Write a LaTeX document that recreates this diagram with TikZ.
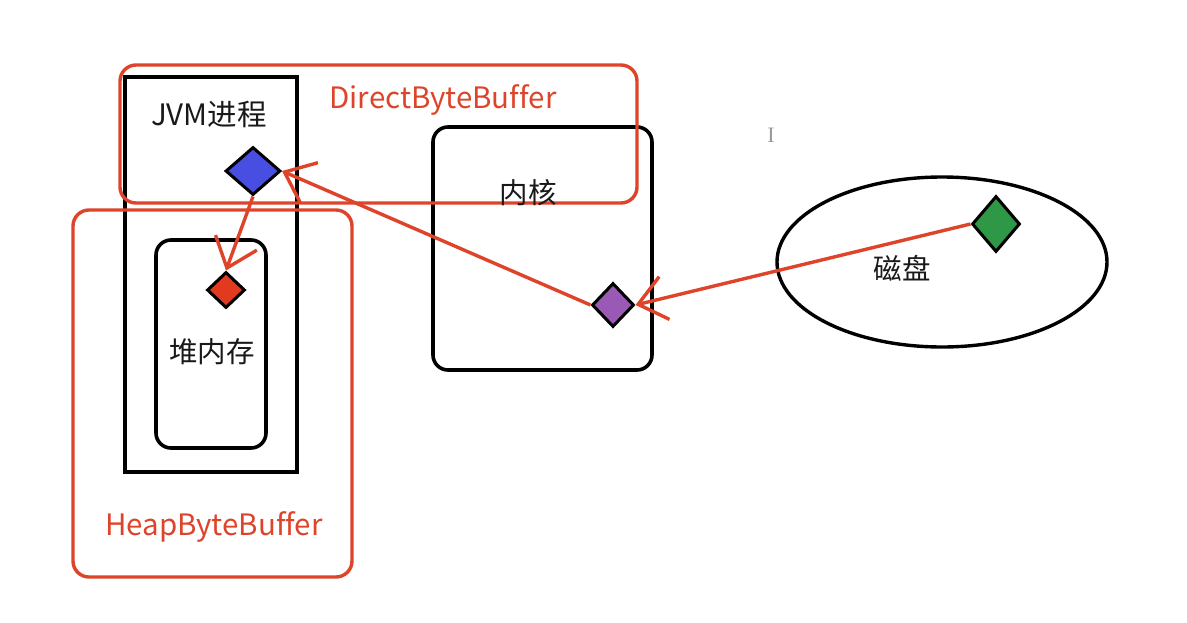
\documentclass[tikz,border=0pt]{standalone}
\usepackage{fontspec}
\setmainfont[Ligatures=NoCommon]{Noto Sans CJK SC}
\newfontfamily\cursorfont{Liberation Serif}
\usetikzlibrary{shapes.geometric,arrows.meta}
\definecolor{myred}{RGB}{222,68,42}
\definecolor{gemblue}{RGB}{72,78,226}
\definecolor{gemred}{RGB}{226,58,30}
\definecolor{gempurple}{RGB}{155,89,182}
\definecolor{gemgreen}{RGB}{46,152,70}
\definecolor{txt}{RGB}{25,25,25}
\begin{document}
\begin{tikzpicture}[x=1pt,y=-1pt,
  blackbox/.style={draw=black,line width=3.6pt,inner sep=0pt,rectangle},
  roundbox/.style={blackbox,rounded corners=15pt},
  redframe/.style={draw=myred,line width=3.4pt,rounded corners=16pt,inner sep=0pt,rectangle},
  gem/.style={diamond,draw=black,line width=3pt,inner sep=0pt},
  lbl/.style={font=\fontsize{28.5}{31}\selectfont,text=txt,inner sep=0pt},
  redlbl/.style={font=\fontsize{29.5}{32}\selectfont,text=myred,inner sep=0pt},
  arr/.style={draw=myred,line width=3.4pt,-{Straight Barb[length=27pt,width=44pt,line width=3.4pt]}}
]
\useasboundingbox (0,0) rectangle (1187,622);
\fill[white] (0,0) rectangle (1187,622);

% black boxes
\node[blackbox,minimum width=172pt,minimum height=395pt] (jvm) at (211,274.5) {};
\node[roundbox,minimum width=110pt,minimum height=208pt] (heap) at (211,344) {};
\node[roundbox,minimum width=219pt,minimum height=243pt] (kernel) at (542.5,248.5) {};
\node[ellipse,draw=black,line width=3.4pt,minimum width=330pt,minimum height=170pt,inner sep=0pt] (disk) at (942,262) {};

% red frames
\node[redframe,minimum width=517pt,minimum height=138pt] (direct) at (378.5,134) {};
\node[redframe,minimum width=279pt,minimum height=367pt] (heapbuf) at (212.5,393.5) {};

% labels
\node[lbl,font=\fontsize{29.5}{32}\selectfont] (jvmlbl) at (209,114) {JVM进程};
\node[lbl] (heaplbl) at (212,352) {堆内存};
\node[lbl] (kernellbl) at (528,193) {内核};
\node[lbl] (disklbl) at (902,268) {磁盘};
\node[redlbl] (directlbl) at (443,100) {DirectByteBuffer};
\node[redlbl] (heapbuflbl) at (214,527) {HeapByteBuffer};
\node[font=\cursorfont\fontsize{22}{24}\selectfont,text=gray!80,inner sep=0pt] (cursor) at (771,135) {I};

% diamonds
\node[gem,fill=gemblue,minimum width=55pt,minimum height=48pt] (blue) at (253,171) {};
\node[gem,fill=gemred,minimum width=38pt,minimum height=36pt] (red) at (226,290) {};
\node[gem,fill=gempurple,minimum width=42pt,minimum height=44pt] (purple) at (613,305) {};
\node[gem,fill=gemgreen,minimum width=48pt,minimum height=56pt] (green) at (996,224) {};

% arrows
\draw[arr] (green.west) -- (purple.east);
\draw[arr] (purple.west) -- (blue.east);
\draw[arr] (blue.south) -- (red.north);
\end{tikzpicture}
\end{document}
